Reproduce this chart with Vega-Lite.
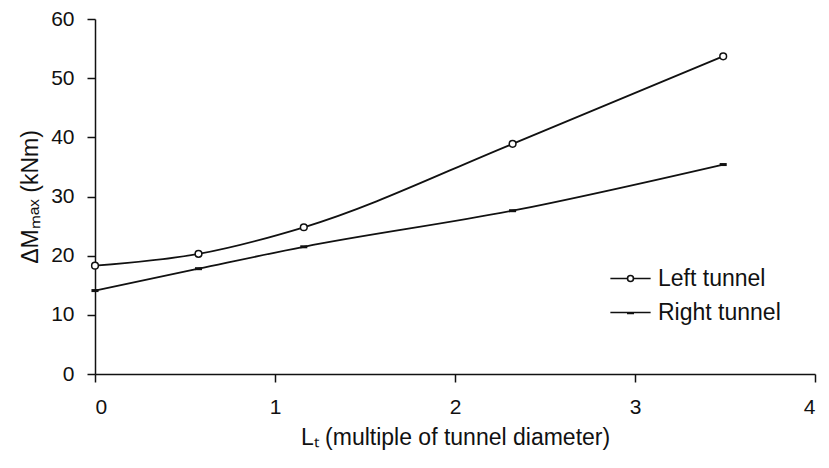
{
  "$schema": "https://vega.github.io/schema/vega-lite/v6.json",
  "width": 720,
  "height": 355,
  "autosize": "none",
  "padding": {"left": 95, "top": 19, "right": 14, "bottom": 94},
  "background": "white",
  "config": {
    "view": {"stroke": null},
    "font": "Liberation Sans",
    "axis": {
      "grid": false,
      "domainColor": "#111",
      "domainWidth": 1.5,
      "tickColor": "#111",
      "tickWidth": 1.5,
      "tickSize": 8,
      "labelColor": "#111",
      "labelFont": "Liberation Sans",
      "labelFontSize": 21,
      "titleColor": "#111",
      "titleFont": "Liberation Sans",
      "titleFontSize": 23,
      "titleFontWeight": "normal"
    }
  },
  "data": {
    "values": [
      {"series": "Left tunnel", "L": 0, "M": 18.3},
      {"series": "Left tunnel", "L": 0.575, "M": 20.3},
      {"series": "Left tunnel", "L": 1.16, "M": 24.8},
      {"series": "Left tunnel", "L": 2.32, "M": 38.9},
      {"series": "Left tunnel", "L": 3.49, "M": 53.7},
      {"series": "Right tunnel", "L": 0, "M": 14.1},
      {"series": "Right tunnel", "L": 0.575, "M": 17.8},
      {"series": "Right tunnel", "L": 1.16, "M": 21.5},
      {"series": "Right tunnel", "L": 2.32, "M": 27.6},
      {"series": "Right tunnel", "L": 3.49, "M": 35.4}
    ]
  },
  "encoding": {
    "x": {
      "field": "L", "type": "quantitative",
      "scale": {"domain": [0, 4], "nice": false},
      "axis": {"values": [0, 1, 2, 3, 4], "format": "d", "labelPadding": 14, "titlePadding": 9, "title": "Lₜ (multiple of tunnel diameter)"}
    },
    "y": {
      "field": "M", "type": "quantitative",
      "scale": {"domain": [0, 60], "nice": false},
      "axis": {"values": [0, 10, 20, 30, 40, 50, 60], "labelPadding": 13, "titlePadding": 8, "title": "ΔMₘₐₓ (kNm)"}
    }
  },
  "layer": [
    {
      "mark": {"type": "line", "interpolate": "monotone", "color": "#111", "strokeWidth": 1.8},
      "encoding": {"detail": {"field": "series"}}
    },
    {
      "transform": [{"filter": "datum.series == 'Left tunnel'"}],
      "mark": {"type": "point", "shape": "circle", "filled": true, "fill": "white", "stroke": "#111", "strokeWidth": 1.5, "size": 45, "opacity": 1}
    },
    {
      "transform": [{"filter": "datum.series == 'Right tunnel'"}],
      "mark": {"type": "point", "shape": "M-1,0L1,0", "filled": false, "stroke": "#111", "strokeWidth": 3, "size": 50, "opacity": 1}
    },
    {
      "mark": {"type": "point", "filled": false, "opacity": 0},
      "encoding": {
        "shape": {
          "field": "series", "type": "nominal",
          "scale": {
            "domain": ["Left tunnel", "Right tunnel"],
            "range": [
              "M-1.15,0L-0.17,0M0.17,0L1.15,0M0.17,0A0.17,0.17,0,1,1,-0.17,0A0.17,0.17,0,1,1,0.17,0",
              "M-1.15,0L1.15,0M-0.2,0.06L0.2,0.06"
            ]
          },
          "legend": {
            "title": null,
            "orient": "none",
            "legendX": 517,
            "legendY": 241,
            "symbolSize": 1225,
            "symbolStrokeWidth": 1.6,
            "symbolStrokeColor": "#111",
            "symbolFillColor": "white",
            "symbolOpacity": 1,
            "rowPadding": 3,
            "labelOffset": 9,
            "labelFont": "Liberation Sans",
            "labelFontSize": 23,
            "labelColor": "#111",
            "encode": {"symbols": {"update": {"opacity": {"value": 1}, "stroke": {"value": "#111"}, "fill": {"value": "white"}}}}
          }
        }
      }
    }
  ]
}
